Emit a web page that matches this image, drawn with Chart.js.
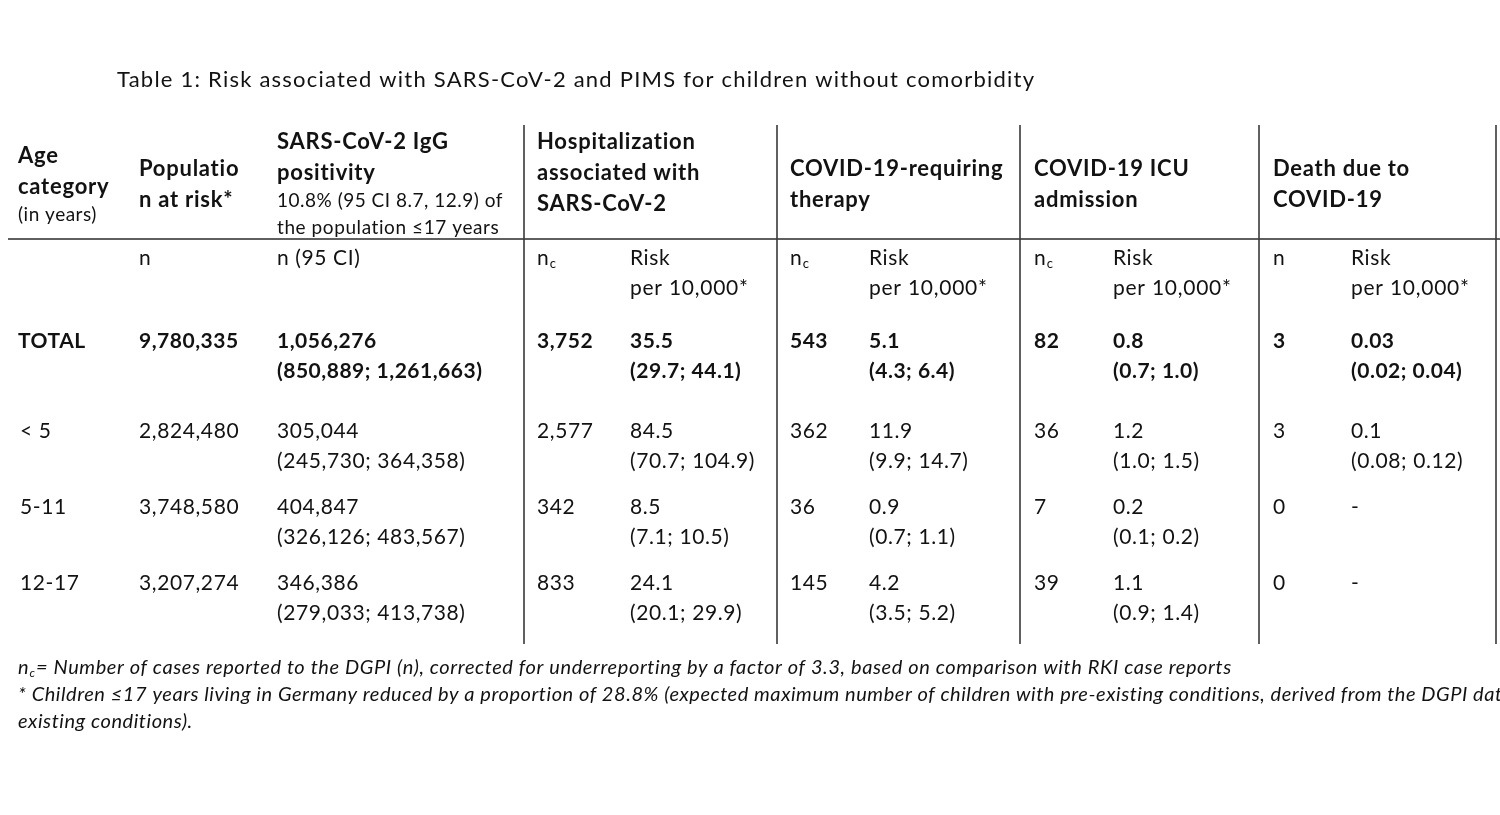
<!DOCTYPE html>
<html lang="en">
<head>
<meta charset="UTF-8">
<title>Table 1: Risk associated with SARS-CoV-2 and PIMS</title>
<style>
  html, body { margin: 0; padding: 0; background: #fff; }
  #wrap { width: 1500px; height: 815px; }
</style>
</head>
<body>
<div id="wrap"><canvas id="tableChart" width="1500" height="815"></canvas></div>

<script src="https://cdn.jsdelivr.net/npm/chart.js"></script>
<script>
const ageGroups   = ['TOTAL', '< 5', '5-11', '12-17'];
const populationN = ['9,780,335', '2,824,480', '3,748,580', '3,207,274'];
const iggN        = ['1,056,276', '305,044', '404,847', '346,386'];
const iggCI       = ['(850,889; 1,261,663)', '(245,730; 364,358)', '(326,126; 483,567)', '(279,033; 413,738)'];
const hospN       = ['3,752', '2,577', '342', '833'];
const hospRisk    = ['35.5', '84.5', '8.5', '24.1'];
const hospCI      = ['(29.7; 44.1)', '(70.7; 104.9)', '(7.1; 10.5)', '(20.1; 29.9)'];
const therapyN    = ['543', '362', '36', '145'];
const therapyRisk = ['5.1', '11.9', '0.9', '4.2'];
const therapyCI   = ['(4.3; 6.4)', '(9.9; 14.7)', '(0.7; 1.1)', '(3.5; 5.2)'];
const icuN        = ['82', '36', '7', '39'];
const icuRisk     = ['0.8', '1.2', '0.2', '1.1'];
const icuCI       = ['(0.7; 1.0)', '(1.0; 1.5)', '(0.1; 0.2)', '(0.9; 1.4)'];
const deathN      = ['3', '3', '0', '0'];
const deathRisk   = ['0.03', '0.1', '-', '-'];
const deathCI     = ['(0.02; 0.04)', '(0.08; 0.12)', '', ''];

// ---- texts ----
const titleText = 'Table 1: Risk associated with SARS-CoV-2 and PIMS for children without comorbidity';
const headerTitles = [
  ['Age', 'category'],
  ['Populatio', 'n at risk*'],
  ['SARS-CoV-2 IgG', 'positivity'],
  ['Hospitalization', 'associated with', 'SARS-CoV-2'],
  ['COVID-19-requiring', 'therapy'],
  ['COVID-19 ICU', 'admission'],
  ['Death due to', 'COVID-19']
];
const ageNote = '(in years)';
const iggNote = ['10.8% (95 CI 8.7, 12.9) of', 'the population \u226417 years'];
const unitLabels = ['', 'n', 'n (95 CI)', 'nc', 'Risk', 'nc', 'Risk', 'nc', 'Risk', 'n', 'Risk'];
const riskUnit = 'per 10,000*';
const footnote1 = '= Number of cases reported to the DGPI (n), corrected for underreporting by a factor of 3.3, based on comparison with RKI case reports';
const footnote2 = '* Children \u226417 years living in Germany reduced by a proportion of 28.8% (expected maximum number of children with pre-existing conditions, derived from the DGPI data on children with pre-';
const footnote3 = 'existing conditions).';

// ---- layout (page units, mapped through the chart scales) ----
const colX = [20, 139, 277, 537, 630, 790, 869, 1034, 1113, 1273, 1351];
const groupX = [18, 139, 277, 537, 790, 1034, 1273];
const headerTop = [156, 169, 142, 142, 169, 169, 169];
const rowY = [341, 431, 507, 583];
const ruleX = [524, 777, 1020, 1259, 1496];
const ruleTop = 125, ruleBottom = 644, headRuleY = 239, headRuleX = [8, 1500];

const FONT = 'Lato';
const INK = '#121212';

// table rules as line datasets
const ruleSets = ruleX.map(x => ({
  data: [{ x: x, y: ruleTop }, { x: x, y: ruleBottom }],
  borderColor: '#3a3a3a', borderWidth: 1.6, pointRadius: 0, clip: false
}));
ruleSets.push({
  data: [{ x: headRuleX[0], y: headRuleY }, { x: headRuleX[1], y: headRuleY }],
  borderColor: '#2a2a2a', borderWidth: 1.6, pointRadius: 0, clip: false
});

const tableText = {
  id: 'tableText',
  afterDatasetsDraw(chart) {
    const ctx = chart.ctx;
    const X = v => chart.scales.x.getPixelForValue(v);
    const Y = v => chart.scales.y.getPixelForValue(v);
    ctx.save();
    ctx.fillStyle = INK;
    ctx.textBaseline = 'middle';
    ctx.textAlign = 'left';

    function put(text, x, y, font, spacing) {
      ctx.font = font;
      ctx.letterSpacing = (spacing || 0) + 'px';
      ctx.fillText(text, X(x), Y(y));
      ctx.letterSpacing = '0px';
    }
    function spread(text, x, y, font, width) {
      ctx.font = font;
      ctx.letterSpacing = '0px';
      const w = ctx.measureText(text).width;
      put(text, x, y, font, (width - w) / (text.length - 1));
    }
    function nc(x, y, size, style) {
      ctx.letterSpacing = '0px';
      ctx.font = style + ' ' + size + 'px ' + FONT;
      ctx.fillText('n', X(x), Y(y));
      const w = ctx.measureText('n').width;
      ctx.font = style + ' ' + Math.round(size * 0.62) + 'px ' + FONT;
      ctx.fillText('c', X(x) + w + 1, Y(y) + size * 0.28);
    }

    // title
    spread(titleText, 117, 80, '22px ' + FONT, 917);

    // header block
    const headFont = 'bold 22px ' + FONT;
    headerTitles.forEach((lines, g) => {
      lines.forEach((t, i) => put(t, groupX[g], headerTop[g] + i * 31, headFont, 0.75));
    });
    put(ageNote, groupX[0], 215, '19px ' + FONT, 0.5);
    put(iggNote[0], groupX[2], 201, '19px ' + FONT, 0.5);
    spread(iggNote[1], groupX[2], 228, '19px ' + FONT, 222);

    // unit row
    const reg = '21px ' + FONT;
    unitLabels.forEach((t, c) => {
      if (t === 'nc') nc(colX[c], 258, 21, '');
      else if (t) put(t, colX[c], 258, reg, 0.6);
      if (t === 'Risk') put(riskUnit, colX[c], 288, reg, 0.75);
    });

    // body rows
    const single = [ageGroups, populationN];
    const pairs = [[iggN, iggCI], [hospN, null], [hospRisk, hospCI], [therapyN, null],
                   [therapyRisk, therapyCI], [icuN, null], [icuRisk, icuCI], [deathN, null], [deathRisk, deathCI]];
    rowY.forEach((y, r) => {
      const f = (r === 0 ? 'bold ' : '') + '21px ' + FONT;
      const sp = r === 0 ? 0.5 : 0.6;
      single.forEach((arr, c) => put(arr[r], colX[c] - (c === 0 && r === 0 ? 2 : 0), y, f, sp));
      pairs.forEach(([top, ci], k) => {
        const x = colX[k + 2];
        put(top[r], x, y, f, sp);
        if (ci && ci[r]) put(ci[r], x, y + 30, f, sp);
      });
    });

    // footnotes
    const it = 'italic 20px ' + FONT;
    nc(18, 668, 20, 'italic');
    spread(footnote1, 36, 668, it, 1195);
    put(footnote2, 18, 695, it, 0.55);
    put(footnote3, 18, 722, it, 0.55);
    ctx.restore();
  }
};

new Chart(document.getElementById('tableChart'), {
  type: 'line',
  data: { datasets: ruleSets },
  options: {
    responsive: false,
    animation: false,
    layout: { padding: 0 },
    scales: {
      x: { type: 'linear', min: 0, max: 1500, display: false },
      y: { type: 'linear', min: 0, max: 815, reverse: true, display: false }
    },
    plugins: { legend: { display: false }, tooltip: { enabled: false }, title: { display: false } }
  },
  plugins: [tableText]
});
</script>
</body>
</html>
